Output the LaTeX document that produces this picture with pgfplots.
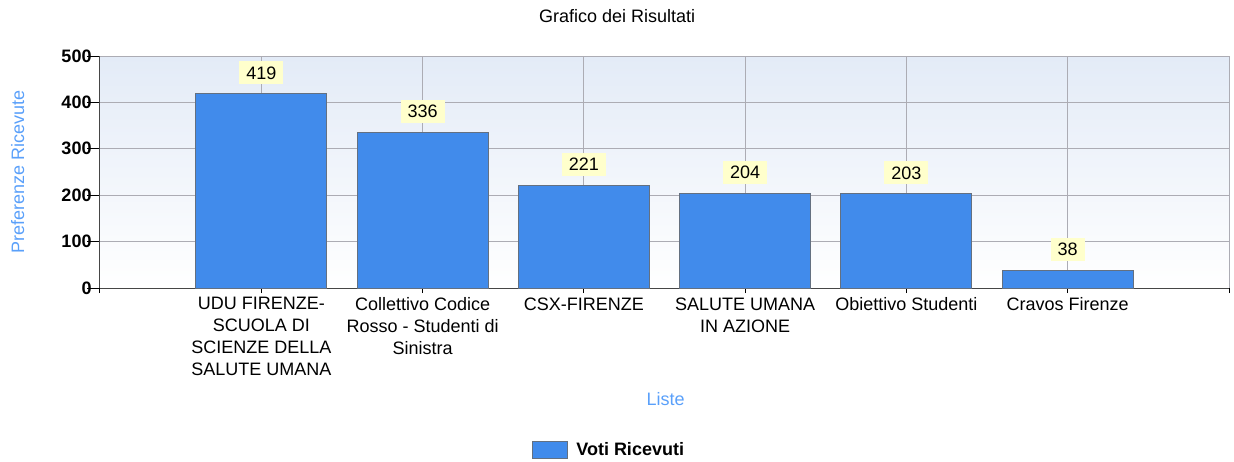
\documentclass[border=0pt]{standalone}
\usepackage{pgfplots}
\pgfplotsset{compat=1.18}
\usepackage{fontspec}
\setmainfont{Liberation Sans}
\definecolor{barblue}{RGB}{65,139,235}
\definecolor{barborder}{RGB}{100,112,128}
\definecolor{bgtop}{RGB}{227,235,247}
\definecolor{gridc}{RGB}{172,172,180}
\definecolor{lblblue}{RGB}{90,160,250}
\definecolor{lblyellow}{RGB}{255,255,204}
\definecolor{axisc}{RGB}{70,70,70}
\newcommand{\fs}{\fontsize{18}{22}\selectfont}
\begin{document}
\begin{tikzpicture}
\begin{axis}[
  scale only axis,
  width=1129pt, height=232pt,
  xmin=-1, xmax=6, ymin=0, ymax=500,
  /pgf/number format/assume math mode=true,
  axis lines=left,
  axis line style={-, draw=axisc, line width=1pt},
  tick align=outside,
  tick style={black, line width=1pt},
  xtick style={/pgfplots/major tick length=5pt},
  ytick style={/pgfplots/major tick length=13pt},
  xtick={-1,0,1,2,3,4,5,6},
  xticklabels={,{UDU FIRENZE-\\SCUOLA DI\\SCIENZE DELLA\\SALUTE UMANA},{Collettivo Codice\\Rosso - Studenti di\\Sinistra},{CSX-FIRENZE},{SALUTE UMANA\\IN AZIONE},{Obiettivo Studenti},{Cravos Firenze},},
  xticklabel style={font=\fs, align=center, anchor=north, inner sep=0pt, yshift=-5pt},
  ytick={0,100,200,300,400,500},
  yticklabel style={font=\bfseries\fs, inner sep=0pt, xshift=-4pt},
  grid=major,
  grid style={draw=gridc, line width=1pt},
  axis background/.style={top color=bgtop, bottom color=white},
  title={Grafico dei Risultati},
  title style={font=\fs, at={(axis description cs:0.458,1.148)}, anchor=center},
  ylabel={Preferenze Ricevute},
  ylabel style={font=\fs, color=lblblue, at={(axis description cs:-0.073,0.502)}, anchor=center},
  xlabel={Liste},
  xlabel style={font=\fs, color=lblblue, at={(axis description cs:0.501,-0.478)}, anchor=center},
  legend style={at={(axis description cs:0.451,-0.698)}, anchor=center, draw=none, fill=none, font=\bfseries\fs},
  legend image code/.code={\draw[fill=barblue, draw=barborder, line width=1pt] (-3pt,-8pt) rectangle (32pt,9pt);},
  legend cell align=left,
]
\addplot[ybar, bar width=131pt, fill=barblue, draw=barborder, line width=1pt,
  nodes near coords,
  every node near coord/.append style={font=\fs, fill=lblyellow, text=black, inner xsep=7pt, inner ysep=5pt, text height=13pt, text depth=0pt, anchor=south, yshift=9pt}]
  coordinates {(0,419) (1,336) (2,221) (3,204) (4,203) (5,38)};
\addlegendentry{\hspace*{6pt}Voti Ricevuti}
\end{axis}
\pgfresetboundingbox
\path[use as bounding box] (-100pt,-173pt) rectangle (1134pt,288pt);
\end{tikzpicture}
\end{document}
